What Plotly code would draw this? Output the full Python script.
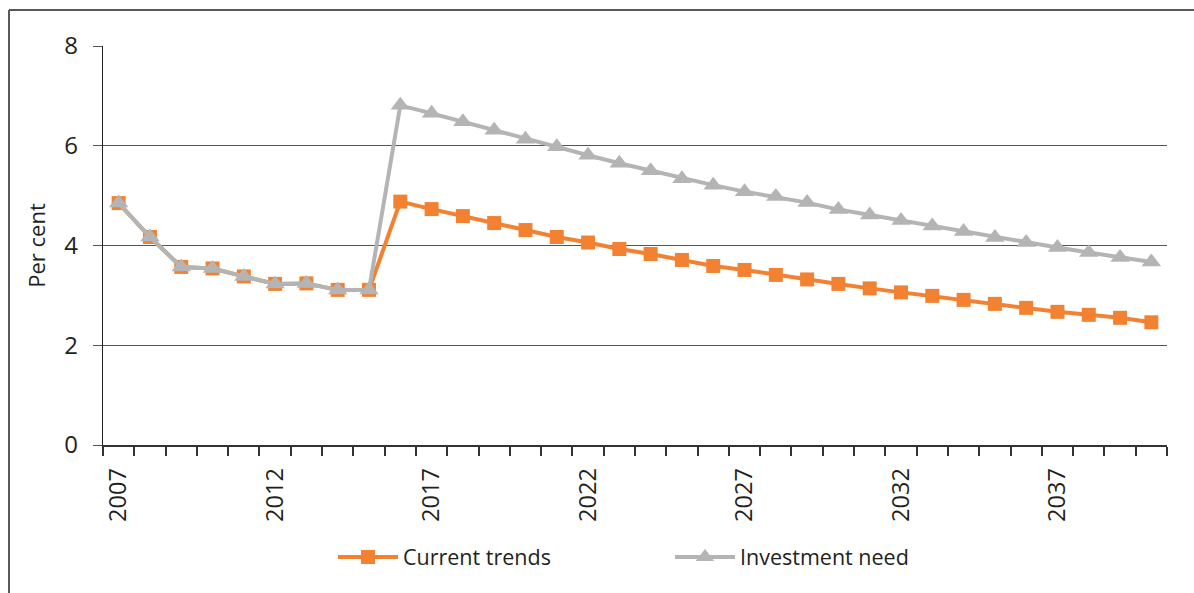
import plotly.graph_objects as go

# Years on the horizontal axis
years = list(range(2007, 2041))

# Per cent values for each scenario
current_trends = [4.85, 4.17, 3.57, 3.54, 3.38, 3.23, 3.24, 3.11, 3.11,
                  4.88, 4.73, 4.59, 4.45, 4.31, 4.17, 4.06, 3.93, 3.83,
                  3.71, 3.59, 3.51, 3.41, 3.32, 3.23, 3.14, 3.06, 2.99,
                  2.91, 2.83, 2.75, 2.67, 2.61, 2.55, 2.46]
investment_need = [4.85, 4.17, 3.57, 3.54, 3.38, 3.23, 3.24, 3.11, 3.11,
                   6.81, 6.65, 6.48, 6.31, 6.13, 5.98, 5.81, 5.65, 5.50,
                   5.34, 5.21, 5.08, 4.98, 4.86, 4.72, 4.61, 4.50, 4.39,
                   4.28, 4.16, 4.06, 3.96, 3.86, 3.76, 3.67]

x_tick_years = [2007, 2012, 2017, 2022, 2027, 2032, 2037]
y_ticks = [0, 2, 4, 6, 8]

ORANGE = "#F28232"
GREY = "#B4B4B4"
TEXT = "#231F20"
FONT = "Open Sans"

fig = go.Figure()
fig.add_trace(go.Scatter(
    x=years, y=current_trends, name="Current trends", mode="lines+markers",
    line=dict(color=ORANGE, width=4),
    marker=dict(symbol="square", size=14, color=ORANGE),
))
fig.add_trace(go.Scatter(
    x=years, y=investment_need, name="Investment need", mode="lines+markers",
    line=dict(color=GREY, width=4),
    marker=dict(symbol="triangle-up", size=17, color=GREY),
))

fig.update_layout(
    width=1194, height=593,
    margin=dict(l=103, r=27, t=46, b=148),
    paper_bgcolor="white", plot_bgcolor="white",
    font=dict(family=FONT, size=23, color=TEXT),
    showlegend=True,
    legend=dict(orientation="h", x=(338 - 103 - 5) / 1064, xanchor="left",
                y=(445 - 557) / 399, yanchor="middle",
                itemwidth=60, font=dict(size=21.5, color=TEXT), entrywidth=262,
                traceorder="normal"),
    xaxis=dict(
        range=[2006.5, 2040.5], tickmode="array", tickvals=x_tick_years,
        ticktext=[str(v) for v in x_tick_years], tickangle=-90,
        ticks="", showgrid=False, zeroline=False, ticklabelstandoff=12,
        showline=True, linecolor="#333333", linewidth=1.5,
        tickfont=dict(size=23.5),
        minor=dict(ticks="outside", ticklen=9, tickcolor="#333333", tickwidth=1.5,
                   tickmode="linear", tick0=2006.5, dtick=1, showgrid=False),
    ),
    yaxis=dict(
        range=[0, 8], tickmode="array", tickvals=y_ticks,
        showgrid=True, gridcolor="#555555", gridwidth=1.2, zeroline=False,
        showline=True, linecolor="#222222", linewidth=1.2,
        ticks="outside", ticklen=9, tickcolor="#555555", ticklabelstandoff=10,
        tickfont=dict(size=24),
        title=dict(text="Per cent", standoff=12, font=dict(size=22)),
    ),
)

# Outer frame (top and left edges)
frame = dict(color="#595959", width=2)
fig.add_shape(type="line", xref="paper", yref="paper",
              x0=(9 - 103) / 1064, x1=1.2, y0=(445 - 10) / 399, y1=(445 - 10) / 399, line=frame)
fig.add_shape(type="line", xref="paper", yref="paper",
              x0=(9 - 103) / 1064, x1=(9 - 103) / 1064, y0=(445 - 10) / 399, y1=-0.5, line=frame)

fig.write_html("out.html")
